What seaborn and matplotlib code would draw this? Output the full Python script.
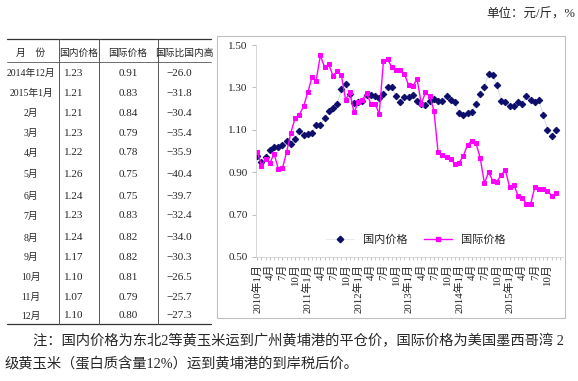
import numpy as np
import pandas as pd
import matplotlib.pyplot as plt
import seaborn as sns
from matplotlib.lines import Line2D
from matplotlib.patches import Rectangle

# monthly corn prices, Jan 2010 - Dec 2015 (yuan/jin)
domestic = [0.977, 0.947, 0.974, 1.005, 1.018, 1.018, 1.026, 1.045, 1.032, 1.057, 1.094, 1.076,
            1.080, 1.087, 1.122, 1.125, 1.155, 1.191, 1.201, 1.221, 1.291, 1.316, 1.270, 1.226,
            1.229, 1.237, 1.265, 1.264, 1.261, 1.250, 1.270, 1.302, 1.302, 1.259, 1.229, 1.253,
            1.253, 1.264, 1.234, 1.224, 1.218, 1.237, 1.247, 1.234, 1.234, 1.258, 1.242, 1.231,
            1.177, 1.168, 1.179, 1.182, 1.220, 1.269, 1.302, 1.363, 1.360, 1.310, 1.236, 1.23,
            1.21, 1.21, 1.23, 1.22, 1.26, 1.24, 1.23, 1.24, 1.17, 1.10, 1.07, 1.10]
international = [0.997, 0.931, 0.963, 0.943, 0.987, 0.916, 0.919, 0.997, 1.087, 1.155, 1.171, 1.210,
                 1.276, 1.347, 1.332, 1.451, 1.395, 1.409, 1.355, 1.376, 1.357, 1.242, 1.276, 1.182,
                 1.229, 1.242, 1.273, 1.223, 1.223, 1.176, 1.423, 1.432, 1.396, 1.384, 1.380, 1.363,
                 1.310, 1.305, 1.340, 1.223, 1.276, 1.258, 1.191, 0.993, 0.979, 0.974, 0.961, 0.939,
                 0.945, 0.977, 1.029, 1.048, 1.037, 0.969, 0.848, 0.900, 0.860, 0.856, 0.887, 0.91,
                 0.83, 0.84, 0.79, 0.78, 0.75, 0.75, 0.83, 0.82, 0.82, 0.81, 0.79, 0.80]

tick_labels = []
for yr in range(2010, 2016):
    tick_labels += [f"{yr}年1月", "4月", "7月", "10月"]

table_header = ["月　份", "国内价格", "国际价格", "国际比国内高"]
table_months = ["2014年12月", "2015年1月", "2月", "3月", "4月", "5月", "6月",
                "7月", "8月", "9月", "10月", "11月", "12月"]
table_dom = [1.23, 1.21, 1.21, 1.23, 1.22, 1.26, 1.24, 1.23, 1.24, 1.17, 1.10, 1.07, 1.10]
table_intl = [0.91, 0.83, 0.84, 0.79, 0.78, 0.75, 0.75, 0.83, 0.82, 0.82, 0.81, 0.79, 0.80]
table_diff = [-26.0, -31.8, -30.4, -35.4, -35.9, -40.4, -39.7, -32.4, -34.0, -30.3, -26.5, -25.7, -27.3]

df = pd.DataFrame({"month": np.arange(len(domestic)),
                   "domestic": domestic, "international": international})

sns.set_style("white")
plt.rcParams["font.family"] = ["Liberation Serif", "Noto Sans CJK SC", "DejaVu Sans"]

W, H = 578, 381
fig = plt.figure(figsize=(W / 100, H / 100), dpi=100)


def fx(x):
    return x / W


def fy(y):
    return 1 - y / H


# chart frame
fig.patches.append(Rectangle((fx(217), fy(318)), fx(565) - fx(217), fy(36) - fy(318),
                             transform=fig.transFigure, fill=False, ec="#c0c0c0", lw=0.8))

ax = fig.add_axes([fx(256), fy(257), fx(563) - fx(256), fy(45) - fy(257)])
sns.lineplot(data=df, x="month", y="domestic", ax=ax, color="#d2d2ea", lw=0.6,
             marker="D", markersize=3.3, markerfacecolor="#0d0d6b", markeredgecolor="#0d0d6b")
sns.lineplot(data=df, x="month", y="international", ax=ax, color="#ff00ff", lw=1.0,
             marker="s", markersize=3.0, markerfacecolor="#ff00ff", markeredgecolor="#ff00ff")

ax.set_xlim(-0.3, 72.7)
ax.set_ylim(0.5, 1.5)
ax.set_yticks(np.arange(0.5, 1.51, 0.2))
ax.set_yticklabels([f"{v:.2f}" for v in np.arange(0.5, 1.51, 0.2)], fontsize=8)
ax.set_xticks(np.arange(0, 72, 3))
ax.set_xticklabels(tick_labels, rotation=90, fontsize=7.8, va="top")
ax.set_xticks(np.arange(0, 73, 1), minor=True)
ax.tick_params(axis="x", which="both", length=2, color="#c0c0c0", pad=3, bottom=True)
ax.tick_params(axis="y", length=3, color="#c0c0c0", pad=3, left=True)
ax.set_xlabel("")
ax.set_ylabel("")
for s in ["top", "right"]:
    ax.spines[s].set_visible(False)
ax.spines["left"].set_color("#d0d0d0")
ax.spines["bottom"].set_color("#d0d0d0")
ax.spines["left"].set_linewidth(0.6)
ax.spines["bottom"].set_linewidth(0.6)

handles = [Line2D([], [], color="#e4e4f2", lw=0.6, marker="D", markersize=3.3,
                  markerfacecolor="#0d0d6b", markeredgecolor="#0d0d6b"),
           Line2D([], [], color="#ff00ff", lw=1.0, marker="s", markersize=3.0,
                  markerfacecolor="#ff00ff", markeredgecolor="#ff00ff")]
ax.legend(handles, ["国内价格", "国际价格"], loc="center", bbox_to_anchor=(0.52, 0.08),
          ncol=2, frameon=False, handlelength=2.5, columnspacing=1.5,
          prop={"family": ["Noto Sans CJK SC"], "size": 8})

# table on the left
line_kw = dict(color="#333333", lw=0.9, transform=fig.transFigure)
fig.add_artist(Line2D([fx(7), fx(211)], [fy(39), fy(39)], **line_kw))
fig.add_artist(Line2D([fx(7), fx(211)], [fy(62), fy(62)], color="#555555", lw=0.6,
                      transform=fig.transFigure))
fig.add_artist(Line2D([fx(7), fx(211)], [fy(324), fy(324)], **line_kw))
for xv in [59, 99, 158]:
    fig.add_artist(Line2D([fx(xv), fx(xv)], [fy(39), fy(324)], color="#555555", lw=0.7,
                          transform=fig.transFigure))

col_x = [31, 79, 128, 184]
for cx, txt in zip(col_x, table_header):
    fig.text(fx(cx), fy(53), txt, ha="center", va="center", fontsize=7)
row_y = [73, 93, 113, 133, 153, 174, 196, 216, 238, 257, 277, 297, 316]
for i, ry in enumerate(row_y):
    fig.text(fx(col_x[0]), fy(ry), table_months[i], ha="center", va="center", fontsize=7)
    fig.text(fx(col_x[1] - 5), fy(ry), f"{table_dom[i]:.2f}", ha="center", va="center", fontsize=8)
    fig.text(fx(col_x[2]), fy(ry), f"{table_intl[i]:.2f}", ha="center", va="center", fontsize=8)
    fig.text(fx(col_x[3] - 5), fy(ry), f"{table_diff[i]:.1f}".replace("-", "−"),
             ha="center", va="center", fontsize=8)

fig.text(fx(575), fy(15), "单位：元/斤，%", ha="right", va="center", fontsize=9)
fig.text(fx(33), fy(341), "注：国内价格为东北2等黄玉米运到广州黄埔港的平仓价，国际价格为美国墨西哥湾 2",
         ha="left", va="center", fontsize=10.3)
fig.text(fx(5), fy(364), "级黄玉米（蛋白质含量12%）运到黄埔港的到岸税后价。",
         ha="left", va="center", fontsize=10.3)

fig.savefig("out.png", dpi=100)
